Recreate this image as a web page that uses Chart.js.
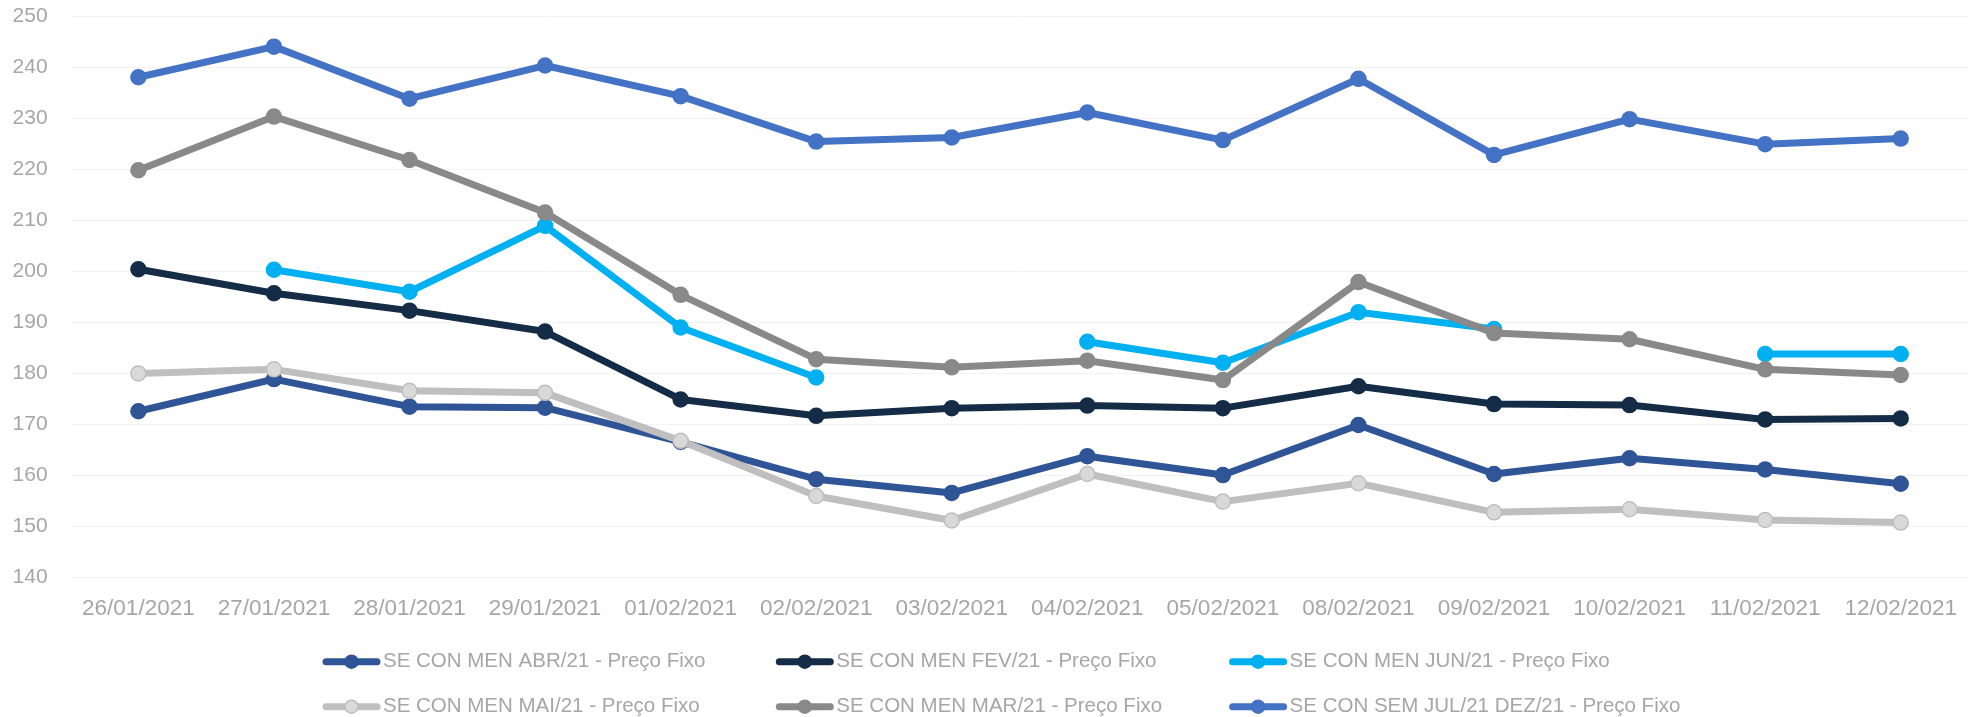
<!DOCTYPE html>
<html>
<head>
<meta charset="utf-8">
<script src="https://cdn.jsdelivr.net/npm/chart.js@4.4.1/dist/chart.umd.min.js"></script>
<style>
  html, body { margin: 0; padding: 0; background: #ffffff; }
  #wrap { width: 1979px; height: 717px; position: relative; }
</style>
</head>
<body>
<div id="wrap"><canvas id="c" width="1979" height="717"></canvas></div>
<script>
const categories = ['26/01/2021','27/01/2021','28/01/2021','29/01/2021','01/02/2021','02/02/2021','03/02/2021','04/02/2021','05/02/2021','08/02/2021','09/02/2021','10/02/2021','11/02/2021','12/02/2021'];

const seriesNames = [
  'SE CON MEN ABR/21 - Preço Fixo',
  'SE CON MEN FEV/21 - Preço Fixo',
  'SE CON MEN JUN/21 - Preço Fixo',
  'SE CON MEN MAI/21 - Preço Fixo',
  'SE CON MEN MAR/21 - Preço Fixo',
  'SE CON SEM JUL/21 DEZ/21 - Preço Fixo'
];

const abr21 = [172.6, 178.9, 173.5, 173.3, 166.6, 159.3, 156.6, 163.8, 160.1, 169.9, 160.3, 163.4, 161.2, 158.4];
const fev21 = [200.4, 195.7, 192.3, 188.2, 174.9, 171.7, 173.2, 173.7, 173.2, 177.5, 174.0, 173.8, 171.0, 171.2];
const jun21 = [null, 200.3, 196.0, 208.9, 189.0, 179.2, null, 186.2, 182.1, 192.0, 188.7, null, 183.8, 183.8];
const mai21 = [180.0, 180.8, 176.6, 176.2, 166.8, 156.0, 151.2, 160.3, 154.9, 158.5, 152.8, 153.4, 151.3, 150.8];
const mar21 = [219.8, 230.3, 221.8, 211.5, 195.4, 182.8, 181.2, 182.5, 178.7, 197.9, 187.9, 186.7, 180.8, 179.7];
const julDez21 = [238.0, 244.0, 233.8, 240.3, 234.3, 225.4, 226.2, 231.1, 225.7, 237.7, 222.8, 229.8, 224.9, 226.0];

const yTicks = [140, 150, 160, 170, 180, 190, 200, 210, 220, 230, 240, 250];

const FONT = "'Liberation Sans', Arial, sans-serif";
const TEXT_COLOR = '#a6a6a6';

function ds(label, data, line, fill, border, order) {
  return {
    label: label,
    data: data,
    borderColor: line,
    backgroundColor: line,
    borderWidth: 7,
    borderJoinStyle: 'round',
    borderCapStyle: 'round',
    pointRadius: 7.5,
    pointHoverRadius: 7.5,
    pointBackgroundColor: fill,
    pointBorderColor: border,
    pointBorderWidth: 1.5,
    tension: 0,
    spanGaps: false,
    fill: false,
    order: order
  };
}

const datasets = [
  ds(seriesNames[0], abr21, '#2f5597', '#2f5597', '#2f5597', 6),
  ds(seriesNames[1], fev21, '#152c47', '#152c47', '#152c47', 5),
  ds(seriesNames[2], jun21, '#00b0f0', '#00b0f0', '#00b0f0', 4),
  ds(seriesNames[3], mai21, '#bfbfbf', '#d9d9d9', '#bfbfbf', 3),
  ds(seriesNames[4], mar21, '#898989', '#898989', '#898989', 2),
  ds(seriesNames[5], julDez21, '#4472c4', '#4472c4', '#4472c4', 1)
];

const gridLegend = {
  id: 'gridLegend',
  afterDraw(chart) {
    const ctx = chart.ctx;
    const pitch = 453.3;
    const x0 = chart.width / 2 - 667;
    const rowY = [chart.height - 55.3, chart.height - 10.3];
    ctx.save();
    chart.data.datasets.forEach((d, i) => {
      const col = i % 3, row = Math.floor(i / 3);
      const x = x0 + col * pitch;
      const y = rowY[row];
      ctx.beginPath();
      ctx.lineCap = 'round';
      ctx.lineWidth = 7;
      ctx.strokeStyle = d.borderColor;
      ctx.moveTo(x + 3.5, y);
      ctx.lineTo(x + 54.5, y);
      ctx.stroke();
      ctx.beginPath();
      ctx.arc(x + 29, y, 6.5, 0, Math.PI * 2);
      ctx.fillStyle = d.pointBackgroundColor;
      ctx.fill();
      ctx.lineWidth = 1.5;
      ctx.strokeStyle = d.pointBorderColor;
      ctx.stroke();
      ctx.fillStyle = TEXT_COLOR;
      ctx.font = '20.5px ' + FONT;
      ctx.textAlign = 'left';
      ctx.textBaseline = 'middle';
      ctx.fillText(d.label, x + 60.5, y);
    });
    ctx.restore();
  }
};

new Chart(document.getElementById('c'), {
  type: 'line',
  data: { labels: categories, datasets: datasets },
  options: {
    responsive: false,
    animation: false,
    devicePixelRatio: 1,
    layout: { padding: { left: 0, right: 10.5, top: 16, bottom: 94.3 } },
    plugins: {
      legend: { display: false },
      tooltip: { enabled: false },
      title: { display: false }
    },
    scales: {
      x: {
        offset: true,
        grid: { display: false, drawTicks: false },
        border: { display: false },
        ticks: {
          color: TEXT_COLOR,
          font: { family: FONT, size: 22.5 },
          padding: 17.2,
          maxRotation: 0,
          autoSkip: false
        },
        afterFit(scale) {
          scale.height = 45;
          scale.paddingLeft = 0; scale.paddingRight = 0;
          scale.paddingTop = 0; scale.paddingBottom = 0;
        }
      },
      y: {
        min: 140,
        max: 250,
        grid: { color: '#f2f2f2', lineWidth: 1, drawTicks: false },
        border: { display: false },
        afterBuildTicks(scale) { scale.ticks = yTicks.map(v => ({ value: v })); },
        ticks: {
          color: TEXT_COLOR,
          font: { family: FONT, size: 21 },
          padding: 23
        },
        afterFit(scale) {
          scale.width = 70.6;
          scale.paddingTop = 0; scale.paddingBottom = 0;
          scale.paddingLeft = 0; scale.paddingRight = 0;
        }
      }
    }
  },
  plugins: [gridLegend]
});
</script>
</body>
</html>
